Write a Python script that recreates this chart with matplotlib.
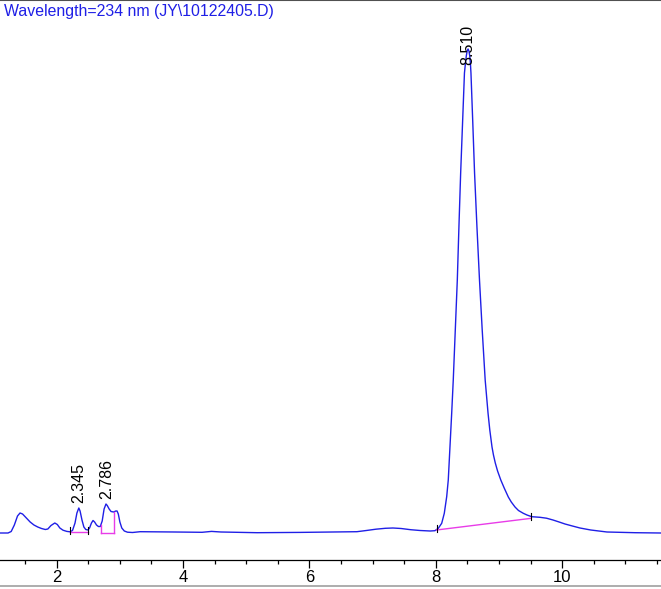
"""
Chromatogram at 234 nm, redrawn from the exported report picture.
"""

import numpy as np
import matplotlib
matplotlib.use("Agg")
import matplotlib.pyplot as plt
from matplotlib.lines import Line2D

# Signal trace (time in min, signal in arbitrary units)
trace_time = [
    1.103, 1.23, 1.28, 1.33, 1.38, 1.42, 1.46, 1.52, 1.58, 1.64,
    1.70, 1.76, 1.82, 1.86, 1.91, 1.97, 2.01, 2.05, 2.10, 2.16,
    2.21, 2.25, 2.29, 2.32, 2.35, 2.37, 2.40, 2.43, 2.46, 2.495,
    2.52, 2.55, 2.575, 2.60, 2.63, 2.66, 2.69, 2.72, 2.75, 2.78,
    2.80, 2.83, 2.86, 2.90, 2.935, 2.955, 2.975, 3.00, 3.03, 3.07,
    3.12, 3.20, 3.32, 3.87, 4.30, 4.45, 4.60, 5.17, 5.85, 6.75,
    6.90, 7.05, 7.20, 7.32, 7.45, 7.60, 7.75, 7.91, 7.985, 8.038,
    8.092, 8.133, 8.171, 8.196, 8.223, 8.250, 8.275, 8.307, 8.339, 8.365,
    8.392, 8.422, 8.452, 8.468, 8.481, 8.495, 8.509, 8.523, 8.536, 8.546,
    8.555, 8.584, 8.612, 8.649, 8.690, 8.733, 8.780, 8.825, 8.853, 8.888,
    8.911, 8.940, 8.976, 9.027, 9.081, 9.146, 9.193, 9.252, 9.307, 9.383,
    9.441, 9.516, 9.647, 9.75, 9.853, 9.95, 10.043, 10.16, 10.28, 10.45,
    10.707, 11.15, 11.56,
]
trace_signal = [
    0.0, 0.0, 1.5, 8, 17, 20, 19, 15, 11, 8,
    6, 4.5, 3.5, 4, 7.5, 10, 8.5, 5, 2.8, 1.6,
    1.2, 2.5, 10, 20, 25, 22, 13, 6, 3.5, 3,
    5, 10, 12.5, 11, 8, 6.5, 6.5, 12, 24, 29,
    27.5, 24, 21.5, 21, 22, 22, 19, 11, 5, 2,
    0.8, 0.5, 1.3, 1, 0.7, 1.6, 1.0, 0.3, 0.6, 1.3,
    2.5, 3.8, 4.7, 5, 4.5, 3.3, 2.5, 2, 2.3, 4.7,
    9.7, 19.7, 36.3, 53, 86.3, 119.7, 153, 203, 253, 307,
    360, 410, 460, 470, 477, 482, 484, 482, 477, 470,
    460, 410, 360, 307, 253, 203, 153, 120, 103, 86,
    78, 70, 62, 53, 45, 36, 31, 26, 22.5, 19.7,
    18, 16.3, 15.7, 14.8, 13, 11, 9, 7, 5, 3,
    1, 0.3, 0,
]

# Integrated peaks
peak_rt = [2.345, 2.786, 8.510]
peak_labels = ["2.345", "2.786", "8.510"]
base_start_t = [2.21, 2.70, 8.01]
base_start_h = [0.7, 0.3, 3.0]
base_end_t = [2.50, 2.91, 9.51]
base_end_h = [0.7, 0.3, 14.7]
drop_lines = [False, True, False]

title_text = "Wavelength=234 nm (JY\\10122405.D)"

TRACE_BLUE = "#1f1fe6"
BASE_MAGENTA = "#e83ce8"


def plot_chromatogram(output="out.png"):
    fig = plt.figure(figsize=(6.61, 5.89), dpi=100)
    ax = fig.add_axes([0.0, 29.3 / 589, 1.0, 1 - 29.3 / 589])

    t = np.array(trace_time)
    s = np.array(trace_signal)

    # Trace
    ax.plot(t, s, color=TRACE_BLUE, lw=1.0, solid_joinstyle="round")

    # Baselines, drop lines, event ticks and retention-time labels
    for i, rt in enumerate(peak_rt):
        ax.plot([base_start_t[i], base_end_t[i]], [base_start_h[i], base_end_h[i]],
                color=BASE_MAGENTA, lw=1.0)
        if drop_lines[i]:
            for tt, hh in [(base_start_t[i], base_start_h[i]), (base_end_t[i], base_end_h[i])]:
                ax.plot([tt, tt], [hh, np.interp(tt, t, s)], color=BASE_MAGENTA, lw=1.0)
        else:
            for tt, hh in [(base_start_t[i], base_start_h[i]), (base_end_t[i], base_end_h[i])]:
                ax.plot([tt, tt], [hh - 2, hh + 5], color="black", lw=0.8)

        win = (t > rt - 0.06) & (t < rt + 0.06)
        apex = s[win].max()
        ax.text(rt, min(apex + 5, 468), peak_labels[i], rotation=90,
                ha="center", va="bottom", fontsize=11.5, family="Liberation Sans")

    ax.set_xlim(1.103, 11.562)
    ax.set_ylim(533 - 559.7, 533)

    for side in ["left", "right"]:
        ax.spines[side].set_visible(False)
    ax.spines["top"].set_color("#505050")
    ax.spines["top"].set_linewidth(1.5)
    ax.spines["bottom"].set_linewidth(0.9)

    ax.set_yticks([])
    ax.set_xticks([2, 4, 6, 8, 10])
    ax.set_xticks(np.arange(1.5, 11.6, 0.5), minor=True)
    ax.tick_params(axis="x", which="major", length=6, width=0.9, pad=1.5,
                   labelsize=12)
    ax.tick_params(axis="x", which="minor", length=3, width=0.9)
    for lbl in ax.get_xticklabels():
        lbl.set_family("Liberation Sans")

    fig.text(4 / 661, 1 - 16 / 589, title_text, color=TRACE_BLUE, fontsize=11.4,
             family="Liberation Sans", va="baseline", ha="left")

    # Grey frame line at the bottom of the report window
    fig.add_artist(Line2D([0, 1], [3.5 / 589, 3.5 / 589], transform=fig.transFigure,
                          color="#a0a0a0", lw=1.2))

    fig.savefig(output, dpi=100)
    plt.close(fig)


if __name__ == "__main__":
    plot_chromatogram()
